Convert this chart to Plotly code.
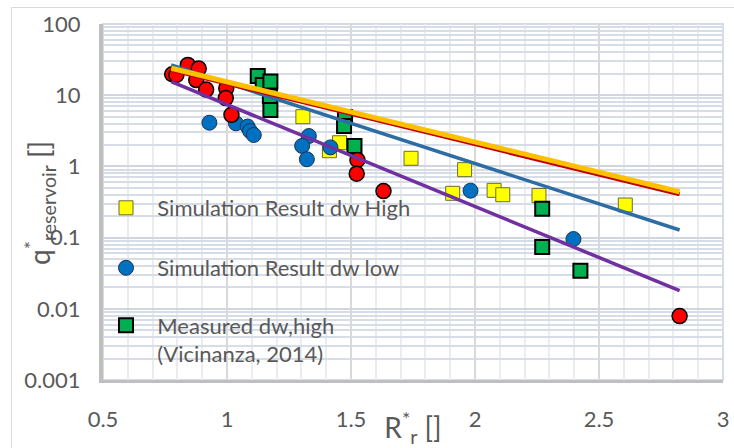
import plotly.graph_objects as go

# ---------------- data ----------------
high_x = [1.306, 1.454, 1.413, 1.742, 1.958, 1.910, 2.077, 2.112, 2.258, 2.606]
high_y = [4.99, 2.15, 1.66, 1.30, 0.90, 0.419, 0.461, 0.40, 0.39, 0.287]

low_x = [0.929, 1.036, 1.083, 1.093, 1.108, 1.330, 1.303, 1.322, 1.417, 1.982, 2.397]
low_y = [4.11, 4.03, 3.63, 3.14, 2.76, 2.67, 1.94, 1.26, 1.85, 0.456, 0.0955]

meas_x = [1.124, 1.144, 1.175, 1.173, 1.175, 1.476, 1.472, 1.514, 2.271, 2.271, 2.425]
meas_y = [18.6, 13.9, 15.6, 9.7, 6.2, 4.94, 3.69, 1.94, 0.255, 0.0738, 0.0343]

red_x = [0.779, 0.796, 0.842, 0.886, 0.876, 0.916, 0.997, 0.995, 1.018, 1.526, 1.523, 1.631, 2.825]
red_y = [19.7, 19.2, 26.6, 23.7, 16.3, 12.0, 12.5, 9.1, 5.3, 1.23, 0.79, 0.45, 0.0079]

trend_x = [0.775, 2.825]
orange_trend_y = [23.9, 0.441]
red_trend_y = [22.6, 0.406]
blue_trend_y = [26.6, 0.128]
purple_trend_y = [15.5, 0.0180]

x_ticks = [0.5, 1, 1.5, 2, 2.5, 3]
x_ticktext = ["0.5", "1", "1.5", "2", "2.5", "3"]
y_ticks = [0.001, 0.01, 0.1, 1, 10, 100]
y_ticktext = ["0.001", "0.01", "0.1", "1", "10", "100"]

names = ["Simulation Result dw High", "Simulation Result dw low",
         "Measured dw,high<br>(Vicinanza, 2014)"]
x_title = "R<sup>*</sup><sub>r</sub> []"
y_title = "q<sup>*</sup><sub>reservoir</sub> []"

FONT = "Lato"
GREY = "#595959"
IND = "\u00a0\u00a0"

fig = go.Figure()

fig.add_trace(go.Scatter(
    x=high_x, y=high_y, mode="markers", name=IND + names[0], legend="legend",
    marker=dict(symbol="square", size=14, color="#FFFF00",
                line=dict(color="#6b6b3a", width=1))))
fig.add_trace(go.Scatter(
    x=low_x, y=low_y, mode="markers", name=IND + names[1], legend="legend2",
    marker=dict(symbol="circle", size=15, color="#0070C0",
                line=dict(color="#1f3350", width=1))))
fig.add_trace(go.Scatter(
    x=meas_x, y=meas_y, mode="markers",
    name=IND + names[2].replace("<br>", "<br>" + IND), legend="legend3",
    marker=dict(symbol="square", size=14, color="#00B050",
                line=dict(color="#000000", width=2))))
fig.add_trace(go.Scatter(
    x=red_x, y=red_y, mode="markers", showlegend=False,
    marker=dict(symbol="circle", size=15, color="#FF0000",
                line=dict(color="#000000", width=1.5))))

for ty, col, w in [(purple_trend_y, "#7030A0", 3.5),
                   (blue_trend_y, "#2E6DA4", 3.5),
                   (red_trend_y, "#C00000", 4),
                   (orange_trend_y, "#FFC000", 5)]:
    fig.add_trace(go.Scatter(x=trend_x, y=ty, mode="lines", showlegend=False,
                             line=dict(color=col, width=w)))

L, R, T, B = 103, 11, 24, 68
W, H = 734, 448
pw = W - L - R
ph = H - T - B


def px2x(p):
    return (p - L) / pw


def py2y(p):
    return (H - B - p) / ph


legfont = dict(family=FONT, size=22, color=GREY)
common = dict(bgcolor="rgba(0,0,0,0)", borderwidth=0, font=legfont,
              xanchor="left", valign="top")

fig.update_layout(
    width=W, height=H,
    margin=dict(l=L, r=R, t=T, b=B, autoexpand=False),
    paper_bgcolor="white", plot_bgcolor="white",
    font=dict(family=FONT, color=GREY),
    legend=dict(x=px2x(106), y=py2y(208), yanchor="middle", **common),
    legend2=dict(x=px2x(106), y=py2y(268), yanchor="middle", **common),
    legend3=dict(x=px2x(106), y=py2y(340), yanchor="middle", **common),
    xaxis=dict(range=[0.5, 3], tickvals=x_ticks, ticktext=x_ticktext,
               automargin=False,
               showgrid=True, gridcolor="#d9d9d9", gridwidth=2,
               minor=dict(dtick=0.1, showgrid=True, gridcolor="#ececec", gridwidth=2),
               showline=True, linecolor="#bfbfbf", linewidth=3,
               zeroline=False, ticks="", ticklabelstandoff=18,
               tickfont=dict(family=FONT, size=22, color=GREY),
               title=dict(text=x_title,
                          font=dict(family=FONT, size=28, color=GREY), standoff=2)),
    yaxis=dict(type="log", range=[-3, 2], tickvals=y_ticks, ticktext=y_ticktext,
               automargin=False,
               showgrid=True, gridcolor="#d0d6e0", gridwidth=2,
               minor=dict(dtick="D1", showgrid=True, gridcolor="#d7dde7", gridwidth=2),
               showline=True, linecolor="#bfbfbf", linewidth=4,
               zeroline=False, ticks="", ticklabelstandoff=14,
               tickfont=dict(family=FONT, size=22, color=GREY)),
    annotations=[
        dict(text=y_title, textangle=-90, xref="paper", yref="paper",
             x=px2x(39), y=py2y(203), xanchor="center", yanchor="middle",
             showarrow=False, font=dict(family=FONT, size=28, color=GREY)),
    ],
    shapes=[
        dict(type="rect", xref="paper", yref="paper", x0=0, x1=1, y0=0, y1=1,
             line=dict(color="#d6dce5", width=2), layer="between"),
        dict(type="rect", xref="paper", yref="paper",
             x0=px2x(11.5), x1=px2x(745), y0=py2y(7.5), y1=py2y(470),
             line=dict(color="#d9d9d9", width=1), layer="below"),
    ],
)

fig.write_html("out.html")
